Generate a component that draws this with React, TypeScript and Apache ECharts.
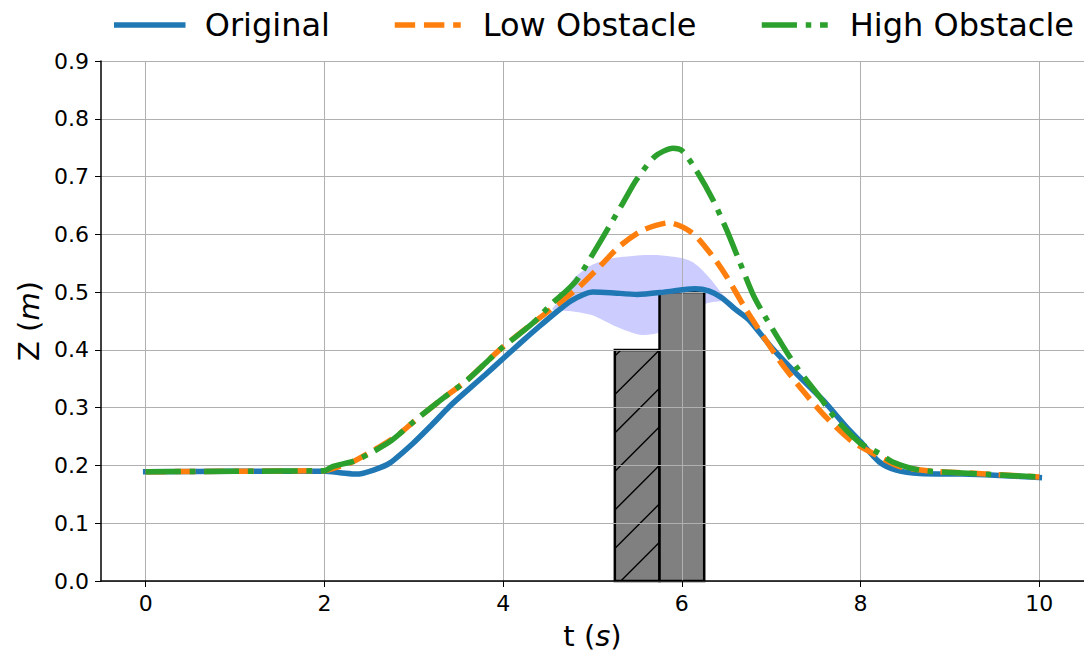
import React, { useEffect, useRef } from 'react';
import * as echarts from 'echarts';

const FONT = "'DejaVu Sans', 'Liberation Sans', sans-serif";

// Legend entries and line colours
const seriesNames = ['Original', 'Low Obstacle', 'High Obstacle'];
const seriesColors = ['#1f77b4', '#ff7f0e', '#2ca02c'];

// Original trajectory: time (s) and height Z (m)
const originalT = [0, 1, 2, 2.2, 2.36, 2.55, 2.73, 2.99, 3.2, 3.4, 3.6, 3.8, 4.0, 4.2, 4.4, 4.6, 4.75, 4.9, 5.0, 5.2, 5.5, 5.8, 6.0, 6.15, 6.3, 6.45, 6.6, 6.75, 7.0, 7.28, 7.58, 7.84, 8.0, 8.21, 8.4, 8.66, 9.14, 9.5, 10];
const originalZ = [0.189, 0.19, 0.19, 0.187, 0.185, 0.192, 0.204, 0.238, 0.27, 0.302, 0.33, 0.357, 0.385, 0.413, 0.44, 0.466, 0.484, 0.496, 0.5, 0.499, 0.496, 0.5, 0.504, 0.506, 0.502, 0.49, 0.47, 0.452, 0.405, 0.359, 0.313, 0.267, 0.241, 0.206, 0.192, 0.186, 0.185, 0.183, 0.179];

// Low obstacle trajectory
const lowT = [0, 1, 2, 2.1, 2.3, 2.5, 2.7, 2.85, 3.0, 3.3, 3.6, 3.96, 4.33, 4.55, 4.7, 4.85, 5.08, 5.3, 5.56, 5.86, 6.12, 6.35, 6.5, 6.72, 6.85, 7.09, 7.35, 7.61, 7.91, 8.21, 8.44, 8.8, 9.2, 10];
const lowZ = [0.189, 0.19, 0.191, 0.195, 0.205, 0.222, 0.24, 0.256, 0.276, 0.313, 0.348, 0.4, 0.446, 0.472, 0.49, 0.509, 0.544, 0.579, 0.607, 0.62, 0.602, 0.561, 0.527, 0.469, 0.438, 0.382, 0.33, 0.284, 0.241, 0.215, 0.198, 0.19, 0.187, 0.18];

// High obstacle trajectory
const highT = [0, 1, 2, 2.09, 2.32, 2.5, 2.75, 3.0, 3.3, 3.6, 3.96, 4.33, 4.55, 4.67, 4.82, 5.0, 5.12, 5.34, 5.49, 5.7, 5.9, 6.0, 6.16, 6.35, 6.5, 6.64, 6.79, 6.9, 7.09, 7.28, 7.54, 7.73, 8.0, 8.21, 8.36, 8.66, 9.14, 10];
const highZ = [0.189, 0.19, 0.191, 0.198, 0.207, 0.22, 0.243, 0.276, 0.313, 0.348, 0.4, 0.446, 0.481, 0.497, 0.52, 0.565, 0.596, 0.654, 0.694, 0.735, 0.749, 0.745, 0.711, 0.659, 0.608, 0.555, 0.498, 0.466, 0.417, 0.371, 0.319, 0.279, 0.238, 0.221, 0.206, 0.192, 0.187, 0.18];

// Spread band around the original trajectory: upper edge then lower edge back
const bandUpperT = [4.55, 4.65, 4.78, 4.97, 5.15, 5.34, 5.55, 5.75, 6.0, 6.12, 6.23, 6.33, 6.42, 6.5];
const bandUpperZ = [0.47, 0.49, 0.522, 0.545, 0.556, 0.561, 0.564, 0.564, 0.559, 0.552, 0.538, 0.521, 0.503, 0.486];
const bandLowerT = [6.42, 6.27, 6.0, 5.75, 5.53, 5.27, 5.0, 4.8, 4.65];
const bandLowerZ = [0.484, 0.48, 0.455, 0.43, 0.426, 0.44, 0.46, 0.466, 0.468];

// Obstacles: start / end time and height
const obstacleStart = [5.25, 5.75];
const obstacleEnd = [5.75, 6.25];
const obstacleHeight = [0.4, 0.5];
const obstacleHatched = [1, 0];

// Axis ticks
const xTicks = [0, 2, 4, 6, 8, 10];

const zip = (t: number[], z: number[]) => t.map((v, i) => [v, z[i]]);

const HATCH_SPACING = 38.5;

function renderObstacle(params: any, api: any) {
  const start = api.value(0);
  const end = api.value(1);
  const h = api.value(2);
  const hatched = api.value(3) === 1;
  const p0 = api.coord([start, 0]);
  const p1 = api.coord([end, h]);
  const x0 = p0[0];
  const x1 = p1[0];
  const yTop = p1[1];
  const yBot = p0[1];
  const children: any[] = [
    {
      type: 'rect',
      shape: { x: x0, y: yTop, width: x1 - x0, height: yBot - yTop },
      style: { fill: '#808080', stroke: 'none' },
    },
  ];
  if (hatched) {
    const cStart = x0 + yBot + 6;
    const cMin = x0 + yTop;
    for (let c = cStart; c > cMin; c -= HATCH_SPACING) {
      const xa = Math.max(x0, c - yBot);
      const xb = Math.min(x1, c - yTop);
      if (xb > xa) {
        children.push({
          type: 'line',
          shape: { x1: xa, y1: c - xa, x2: xb, y2: c - xb },
          style: { stroke: '#000', lineWidth: 1.4 },
        });
      }
    }
  }
  children.push({
    type: 'rect',
    shape: { x: x0, y: yTop, width: x1 - x0, height: yBot - yTop },
    style: { fill: 'none', stroke: '#000', lineWidth: 2.5 },
  });
  return { type: 'group', children };
}

function renderBand(params: any, api: any) {
  const pts = [...zip(bandUpperT, bandUpperZ), ...zip(bandLowerT, bandLowerZ)].map((p) => api.coord(p));
  return {
    type: 'polygon',
    shape: { points: pts, smooth: 0.25 },
    style: { fill: 'rgba(0,0,255,0.2)', stroke: 'none' },
  };
}

const legendLeft = [114, 392, 759];

export default function App() {
  const ref = useRef<HTMLDivElement>(null);

  useEffect(() => {
    if (!ref.current) return;
    const chart = echarts.init(ref.current, undefined, { renderer: 'svg' });

    const lineStyles: any[] = [
      { width: 5.5, type: 'solid', cap: 'square' },
      { width: 5.5, type: [20.4, 8.8] },
      { width: 5.5, type: [35.2, 8.8, 5.5, 8.8] },
    ];
    const lineData = [zip(originalT, originalZ), zip(lowT, lowZ), zip(highT, highZ)];

    const option: any = {
      animation: false,
      backgroundColor: '#fff',
      grid: { left: 101, right: 0, top: 61, bottom: 77, containLabel: false },
      legend: seriesNames.map((name, i) => ({
        data: [name],
        left: legendLeft[i],
        top: 6,
        padding: 0,
        itemWidth: 66,
        itemHeight: 14,
        selectedMode: false,
        itemStyle: { opacity: 0 },
        textStyle: {
          fontSize: 32,
          fontFamily: FONT,
          color: '#000',
          lineHeight: 38,
          padding: [0, 0, 0, 17],
        },
        lineStyle: { width: 5.5 },
      })),
      xAxis: {
        type: 'value',
        min: -0.5,
        max: 10.5,
        z: 1,
        name: '{a|t (}{b|s}{a|)}',
        nameLocation: 'middle',
        nameGap: 40,
        nameTextStyle: {
          rich: {
            a: { fontSize: 29, fontFamily: FONT, color: '#000' },
            b: { fontSize: 29, fontFamily: FONT, fontStyle: 'italic', color: '#000' },
          },
        },
        axisLine: { show: true, onZero: false, lineStyle: { color: '#000', width: 1.5 } },
        axisTick: { show: true, customValues: xTicks, length: 6, lineStyle: { color: '#000', width: 1 } },
        axisLabel: {
          customValues: xTicks,
          margin: 11,
          fontSize: 22,
          fontFamily: FONT,
          color: '#000',
          formatter: (v: number) => String(v),
        },
        splitLine: { show: true, lineStyle: { color: '#b0b0b0', width: 1 } },
      },
      yAxis: {
        type: 'value',
        min: 0,
        max: 0.9,
        interval: 0.1,
        z: 1,
        name: '{a|Z (}{b|m}{a|)}',
        nameLocation: 'middle',
        nameRotate: 90,
        nameGap: 55,
        nameTextStyle: {
          rich: {
            a: { fontSize: 29, fontFamily: FONT, color: '#000' },
            b: { fontSize: 29, fontFamily: FONT, fontStyle: 'italic', color: '#000' },
          },
        },
        axisLine: { show: true, onZero: false, lineStyle: { color: '#000', width: 1.5 } },
        axisTick: { show: true, length: 6, lineStyle: { color: '#000', width: 1 } },
        axisLabel: {
          margin: 12,
          fontSize: 22,
          fontFamily: FONT,
          color: '#000',
          formatter: (v: number) => v.toFixed(1),
        },
        splitLine: { show: true, lineStyle: { color: '#b0b0b0', width: 1 } },
      },
      series: [
        {
          type: 'custom',
          name: 'band',
          z: 0,
          renderItem: renderBand,
          data: [[5.5, 0.5]],
          encode: { x: 0, y: 1 },
          silent: true,
        },
        {
          type: 'custom',
          name: 'obstacles',
          z: 0,
          renderItem: renderObstacle,
          data: obstacleStart.map((s, i) => [s, obstacleEnd[i], obstacleHeight[i], obstacleHatched[i]]),
          encode: { x: [0, 1], y: 2 },
          silent: true,
        },
        ...seriesNames.map((name, i) => ({
          type: 'line',
          name,
          z: 2 + i,
          data: lineData[i],
          symbol: 'none',
          showSymbol: false,
          smooth: 0.25,
          color: seriesColors[i],
          lineStyle: { color: seriesColors[i], ...lineStyles[i] },
          silent: true,
        })),
      ],
    };

    chart.setOption(option);
    return () => chart.dispose();
  }, []);

  return (
    <div
      ref={ref}
      style={{ position: 'absolute', left: 0, top: 0, width: 1084, height: 658 }}
    />
  );
}
